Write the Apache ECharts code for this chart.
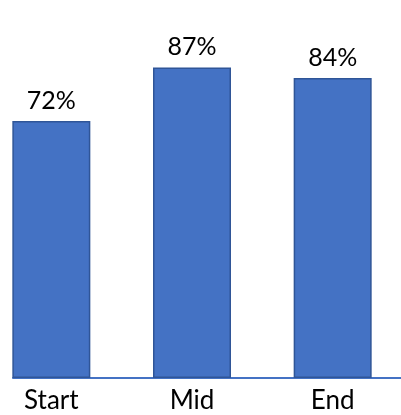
<!DOCTYPE html>
<html>
<head>
<meta charset="utf-8">
<script src="https://cdn.jsdelivr.net/npm/echarts@6/dist/echarts.min.js"></script>
<style>
html,body{margin:0;padding:0;background:#fff;overflow:hidden;width:401px;height:415px;}
#c{position:absolute;left:-19px;top:0;width:422px;height:415px;}
</style>
</head>
<body>
<div id="c"></div>
<script>
var categories = ["Start", "Mid", "End"];
var values = [72, 87, 84];
var labelSuffix = "%";

var chart = echarts.init(document.getElementById('c'), null, {renderer: 'canvas'});
var FONT = 'Lato';
chart.setOption({
  animation: false,
  backgroundColor: '#ffffff',
  grid: [
    {left: 0, right: 0, top: 21, bottom: 37},
    {left: 32, right: 0, top: 21, bottom: 37}
  ],
  xAxis: [
    {
      type: 'category', gridIndex: 0, data: categories,
      axisLine: {show: false}, axisTick: {show: false},
      axisLabel: {color: '#000', fontFamily: FONT, fontSize: 26, margin: 10}
    },
    {
      type: 'category', gridIndex: 1, data: categories,
      axisLine: {show: true, lineStyle: {color: '#4472C4', width: 2}},
      axisTick: {show: false}, axisLabel: {show: false}
    }
  ],
  yAxis: [
    {type: 'value', gridIndex: 0, min: 0, max: 100, show: false},
    {type: 'value', gridIndex: 1, min: 0, max: 100, show: false}
  ],
  series: [{
    type: 'bar', xAxisIndex: 0, yAxisIndex: 0,
    data: values, barWidth: 78,
    itemStyle: {color: '#4472C4', borderColor: '#2F5597', borderWidth: 1.5},
    label: {
      show: true, position: 'top', distance: 8,
      color: '#000', fontFamily: FONT, fontSize: 25,
      formatter: function (p) { return p.value + labelSuffix; }
    },
    z: 3
  }]
});
</script>
</body>
</html>
